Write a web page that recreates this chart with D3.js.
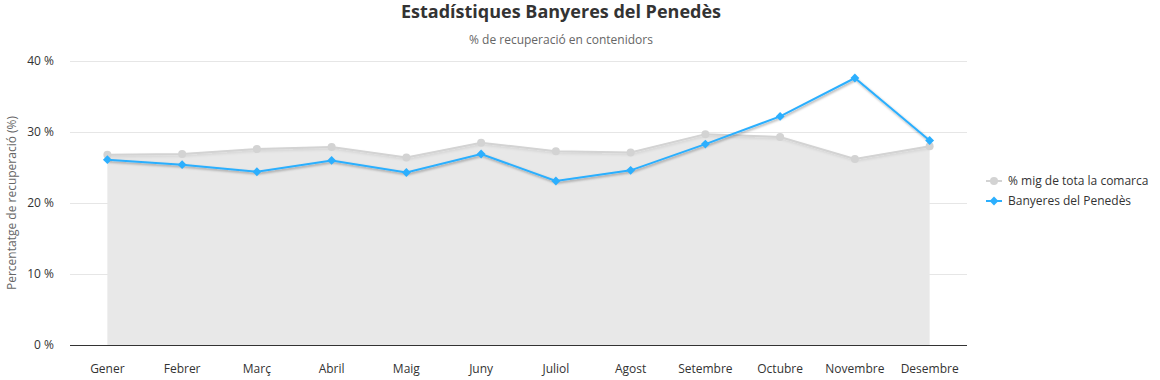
<!DOCTYPE html>
<html><head><meta charset="utf-8">
<script src="https://cdn.jsdelivr.net/npm/d3@7/dist/d3.min.js"></script>
<style>body{margin:0;background:#fff;font-family:"Open Sans","Noto Sans",sans-serif;}</style>
</head><body><svg id="c" width="1160" height="380"></svg>
<script>
const categories = ["Gener","Febrer","Març","Abril","Maig","Juny","Juliol","Agost","Setembre","Octubre","Novembre","Desembre"];
const comarca = [26.8,26.9,27.6,27.9,26.4,28.5,27.3,27.1,29.7,29.3,26.2,28.0];
const banyeres = [26.1,25.4,24.4,26.0,24.3,26.9,23.1,24.6,28.3,32.2,37.6,28.8];
const yTicks = [0,10,20,30,40];
const seriesNames = ["% mig de tota la comarca","Banyeres del Penedès"];

const svg = d3.select("#c");
const L=70,R=967,T=61,B=345;
const x = d3.scaleBand().domain(categories).range([L,R]);
const y = d3.scaleLinear().domain([0,40]).range([B,T]);
const cx = d => x(d)+x.bandwidth()/2;

const defs = svg.append("defs");
const f = defs.append("filter").attr("id","sh").attr("x","-10%").attr("y","-10%").attr("width","120%").attr("height","130%");
f.append("feDropShadow").attr("dx",1).attr("dy",1.5).attr("stdDeviation",1.3).attr("flood-color","#000").attr("flood-opacity",0.35);
const f2 = defs.append("filter").attr("id","sh2").attr("x","-10%").attr("y","-10%").attr("width","120%").attr("height","130%");
f2.append("feDropShadow").attr("dx",1).attr("dy",1.5).attr("stdDeviation",1.2).attr("flood-color","#000").attr("flood-opacity",0.1);

svg.append("text").attr("x",561).attr("y",18).attr("text-anchor","middle").attr("font-size",18).attr("font-weight","bold").attr("fill","#333").text("Estadístiques Banyeres del Penedès");
svg.append("text").attr("x",561).attr("y",44).attr("text-anchor","middle").attr("font-size",12).attr("fill","#666").text("% de recuperació en contenidors");

// grid
svg.append("g").selectAll("line").data(yTicks.filter(t=>t>0)).join("line")
  .attr("x1",L).attr("x2",R).attr("y1",d=>y(d)+0.5).attr("y2",d=>y(d)+0.5).attr("stroke","#e6e6e6");
svg.append("g").selectAll("text").data(yTicks).join("text")
  .attr("x",54).attr("y",d=>y(d)+4).attr("text-anchor","end").attr("font-size",12).attr("fill","#333").text(d=>d+" %");
svg.append("text").attr("transform","translate(16,"+((T+B)/2)+") rotate(-90)").attr("text-anchor","middle").attr("font-size",12).attr("fill","#666").text("Percentatge de recuperació (%)");

// area
const data1 = categories.map((c,i)=>({c,v:comarca[i]}));
const data2 = categories.map((c,i)=>({c,v:banyeres[i]}));
svg.append("path").datum(data1).attr("d",d3.area().x(d=>cx(d.c)).y0(y(0)).y1(d=>y(d.v))).attr("fill","#e8e8e8");
svg.append("path").datum(data1).attr("d",d3.line().x(d=>cx(d.c)).y(d=>y(d.v))).attr("fill","none").attr("stroke","#d3d3d3").attr("stroke-width",2).attr("filter","url(#sh2)");
svg.append("g").selectAll("circle").data(data1).join("circle").attr("cx",d=>cx(d.c)).attr("cy",d=>y(d.v)).attr("r",4).attr("fill","#d3d3d3");

// x axis
svg.append("line").attr("x1",L).attr("x2",R).attr("y1",B+0.5).attr("y2",B+0.5).attr("stroke","#333").attr("stroke-width",1);
svg.append("g").selectAll("text").data(categories).join("text").attr("x",d=>cx(d)).attr("y",373).attr("text-anchor","middle").attr("font-size",12).attr("fill","#333").text(d=>d);

// blue line
const blue="#2caffe";
svg.append("path").datum(data2).attr("d",d3.line().x(d=>cx(d.c)).y(d=>y(d.v))).attr("fill","none").attr("stroke",blue).attr("stroke-width",2).attr("filter","url(#sh)");
const dia = d3.symbol().type(d3.symbolDiamond2).size(50);
svg.append("g").selectAll("path").data(data2).join("path").attr("transform",d=>`translate(${cx(d.c)},${y(d.v)})`).attr("d",dia).attr("fill",blue);

// legend
const lg = svg.append("g");
lg.append("line").attr("x1",986).attr("x2",1002).attr("y1",181).attr("y2",181).attr("stroke","#d3d3d3").attr("stroke-width",2);
lg.append("circle").attr("cx",994).attr("cy",181).attr("r",4).attr("fill","#d3d3d3");
lg.append("text").attr("x",1008).attr("y",185).attr("font-size",12).attr("fill","#333").text(seriesNames[0]);
lg.append("line").attr("x1",986).attr("x2",1002).attr("y1",201).attr("y2",201).attr("stroke",blue).attr("stroke-width",2);
lg.append("path").attr("transform","translate(994,201)").attr("d",dia).attr("fill",blue);
lg.append("text").attr("x",1008).attr("y",205).attr("font-size",12).attr("fill","#333").text(seriesNames[1]);
</script></body></html>
